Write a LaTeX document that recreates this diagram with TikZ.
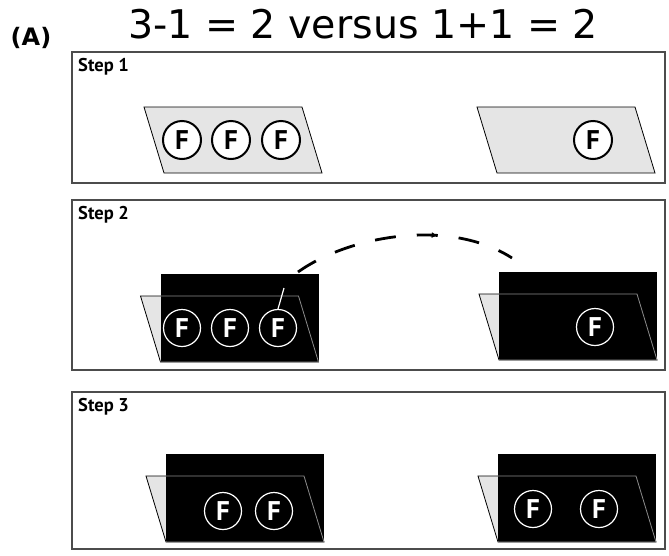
\documentclass[tikz,border=0pt]{standalone}
\usepackage{fontspec}
\setmainfont{DejaVu Sans}
\newfontfamily\ptsans{PT Sans}
\usetikzlibrary{decorations.markings,arrows.meta}
\tikzset{
  panel/.style={draw=black!70, line width=1.2pt},
  steplabel/.style={anchor=north west, inner sep=0pt, font=\ptsans\bfseries\fontsize{18.5}{18.5}\selectfont},
  fcircA/.style={circle, draw=black, fill=white, line width=2pt, minimum size=38pt, inner sep=0pt, font=\ptsans\bfseries\fontsize{27}{27}\selectfont},
  fcircB/.style={circle, draw=white, line width=1.2pt, minimum size=37pt, inner sep=0pt, text=white, font=\ptsans\bfseries\fontsize{27}{27}\selectfont},
  paralfill/.style={fill=black!10, draw=black, line width=0.8pt},
  paralinner/.style={draw=black!45, line width=0.8pt},
  movepath/.style={line width=2.8pt, dash pattern=on 21pt off 21pt},
}
\newcommand\myparal[3]{%
  \draw[#3] (#1,#2) -- ({#1+158},#2) -- ({#1+138},{#2-66}) -- ({#1-20},{#2-66}) -- cycle;}
\newcommand\blackfolder[2]{%
  \myparal{#1}{#2}{paralfill}
  \fill[black] (#1,{#2-88}) rectangle ({#1+158},#2);
  \begin{scope}
    \clip (#1,{#2-88}) rectangle ({#1+158},#2);
    \myparal{#1}{#2}{paralinner}
  \end{scope}}
\begin{document}
\begin{tikzpicture}[x=1pt,y=-1pt]
\useasboundingbox (0,0) rectangle (669,555);
\fill[white] (0,0) rectangle (669,555);
% title
\node[inner sep=0pt, font=\bfseries\fontsize{24}{24}\selectfont] (lab) at (31,38) {(A)};
\node[anchor=base west, inner sep=0pt, font=\fontsize{39.5}{39.5}\selectfont] (title) at (128,38) {3-1 = 2 versus 1+1 = 2};
% panels
\draw[panel] (72,52) rectangle (665,183);
\draw[panel] (72,200) rectangle (665,370);
\draw[panel] (72,392) rectangle (665,549);
\node[steplabel] (s1) at (78,58) {Step 1};
\node[steplabel] (s2) at (78,206) {Step 2};
\node[steplabel] (s3) at (78,398) {Step 3};
% step 1
\myparal{164}{173}{paralfill}
\myparal{497}{173}{paralfill}
\node[fcircA] (a1) at (182,140) {F};
\node[fcircA] (a2) at (231,140) {F};
\node[fcircA] (a3) at (281,140) {F};
\node[fcircA] (a4) at (593,140) {F};
% step 2
\blackfolder{160.5}{362}
\blackfolder{499}{360}
\node[fcircB] (b1) at (182,328) {F};
\node[fcircB] (b2) at (230,328) {F};
\node[fcircB] (b3) at (278,328) {F};
\node[fcircB] (b4) at (595,327) {F};
\coordinate (w1) at (284,288);
\draw[white, line width=1.2pt] (b3.north) -- (w1);
\coordinate (ds) at (298,272);
\coordinate (de) at (512,258);
\draw[movepath, postaction={decorate}, decoration={markings, mark=at position 147pt with {\arrow{Latex[length=6pt,width=6pt]}}}]
  (ds) .. controls (350,235) and (450,218) .. (de);
% step 3
\blackfolder{166}{542}
\blackfolder{498}{542}
\node[fcircB] (c1) at (223,511) {F};
\node[fcircB] (c2) at (274,511) {F};
\node[fcircB] (c3) at (533,509) {F};
\node[fcircB] (c4) at (599,509) {F};
\end{tikzpicture}
\end{document}
